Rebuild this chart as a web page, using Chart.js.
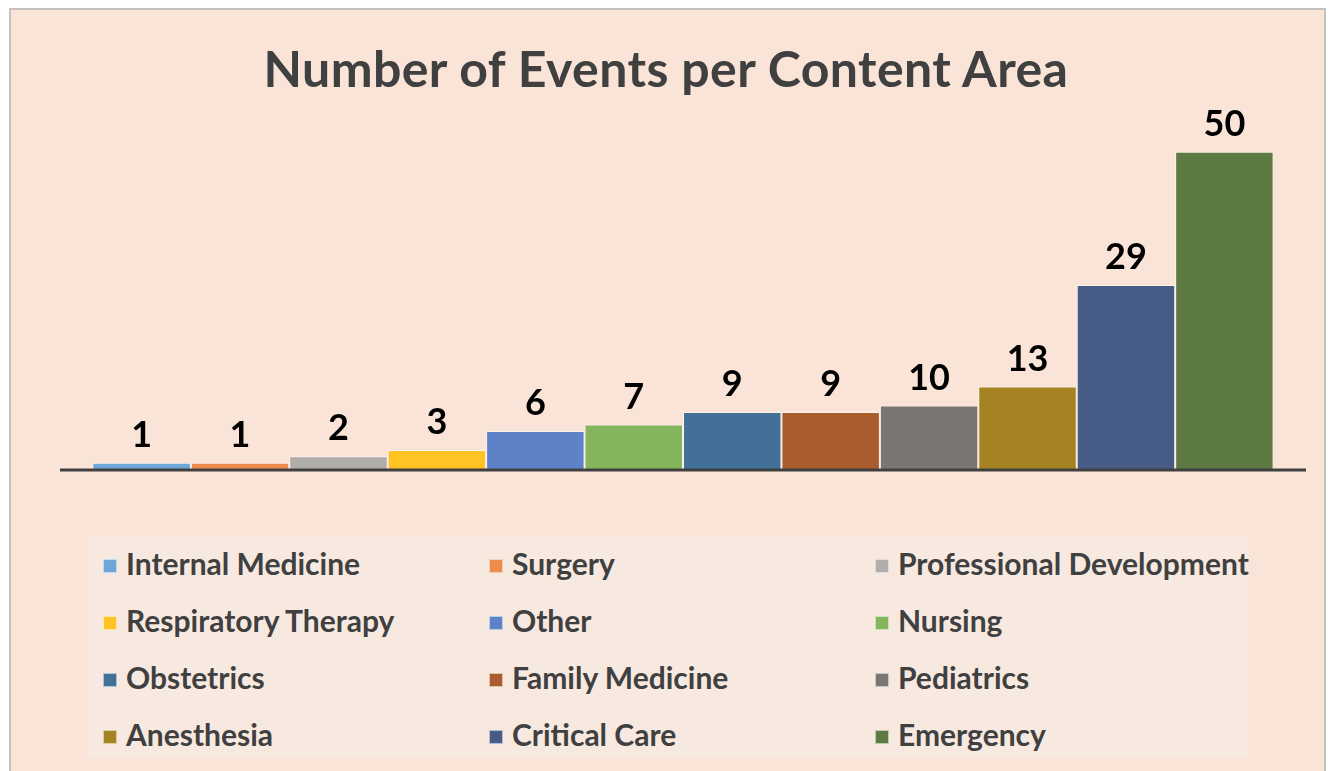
<!DOCTYPE html>
<html>
<head>
<meta charset="utf-8">
<script src="https://cdn.jsdelivr.net/npm/chart.js@4.4.0/dist/chart.umd.min.js"></script>
<style>
  body { margin: 0; background: #ffffff; width: 1332px; height: 771px; overflow: hidden; position: relative; font-family: Lato, "Open Sans", sans-serif; }
  .frame { position: absolute; left: 9px; top: 8px; width: 1313px; height: 800px; background: #fae4d8; border: 2px solid #c3c0bf; border-bottom: none; }
  .title { position: absolute; left: 0; width: 1332px; top: 38px; text-align: center; font-size: 50px; letter-spacing: 0.4px; font-weight: 700; color: #404040; line-height: 60px; }
  .chartBox { position: absolute; left: 0; top: 0; width: 1332px; height: 500px; }
  .legendBox { position: absolute; left: 88px; top: 537px; width: 1160px; height: 221px; background: #f8e9e0; }
  .item { position: absolute; height: 34px; line-height: 34px; font-size: 30px; font-weight: 700; color: #404040; white-space: nowrap; }
  .sw { display: inline-block; width: 14px; height: 14px; margin-right: 9px; vertical-align: 2px; border: 1px solid rgba(255,255,255,0.6); box-sizing: border-box; }
</style>
</head>
<body>
<div class="frame"></div>
<div class="title">Number of Events per Content Area</div>
<div class="chartBox"><canvas id="eventsChart"></canvas></div>
<div class="legendBox" id="legend"></div>
<script>
const areas = ['Internal Medicine', 'Surgery', 'Professional Development', 'Respiratory Therapy',
  'Other', 'Nursing', 'Obstetrics', 'Family Medicine', 'Pediatrics', 'Anesthesia', 'Critical Care', 'Emergency'];
const eventCounts = [1, 1, 2, 3, 6, 7, 9, 9, 10, 13, 29, 50];
const areaColors = ['#6fa6d8', '#ee8a4a', '#b0adaa', '#ffc423', '#5e82c8', '#84b45c',
  '#437096', '#a95c2c', '#7a7672', '#a58322', '#465c87', '#5e7a43'];

// legend laid out like the original: 3 columns, 4 rows
const legend = document.getElementById('legend');
areas.forEach((name, i) => {
  const el = document.createElement('div');
  el.className = 'item';
  el.style.left = (15 + (i % 3) * 386) + 'px';
  el.style.top = (9 + Math.floor(i / 3) * 57) + 'px';
  el.innerHTML = '<span class="sw" style="background:' + areaColors[i] + '"></span>' + name;
  legend.appendChild(el);
});

const valueLabels = {
  id: 'valueLabels',
  afterDatasetsDraw(chart) {
    const ctx = chart.ctx;
    ctx.save();
    ctx.font = 'bold 36px Lato';
    ctx.fillStyle = '#000000';
    ctx.textAlign = 'center';
    ctx.textBaseline = 'alphabetic';
    chart.data.datasets.forEach((ds, i) => {
      const bar = chart.getDatasetMeta(i).data[0];
      ctx.fillText(ds.data[0], bar.x, bar.y - 16);
    });
    ctx.restore();
  }
};

const baseLine = {
  id: 'baseLine',
  afterDatasetsDraw(chart) {
    const ctx = chart.ctx;
    const y = chart.scales.y.getPixelForValue(0);
    ctx.save();
    ctx.strokeStyle = '#404040';
    ctx.lineWidth = 3;
    ctx.beginPath();
    ctx.moveTo(chart.chartArea.left, y + 1);
    ctx.lineTo(chart.chartArea.right, y + 1);
    ctx.stroke();
    ctx.restore();
  }
};

new Chart(document.getElementById('eventsChart'), {
  type: 'bar',
  data: {
    labels: [''],
    datasets: areas.map((name, i) => ({
      label: name,
      data: [eventCounts[i]],
      backgroundColor: areaColors[i],
      borderColor: 'rgba(255,255,255,0.55)',
      borderWidth: 1,
      categoryPercentage: 0.948,
      barPercentage: 1
    }))
  },
  options: {
    responsive: true,
    maintainAspectRatio: false,
    animation: false,
    layout: { padding: { left: 60, right: 26, top: 120, bottom: 31 } },
    plugins: { legend: { display: false }, tooltip: { enabled: false } },
    scales: {
      x: { display: false },
      y: { display: false, min: 0, max: 55 }
    }
  },
  plugins: [valueLabels, baseLine]
});
</script>
</body>
</html>
